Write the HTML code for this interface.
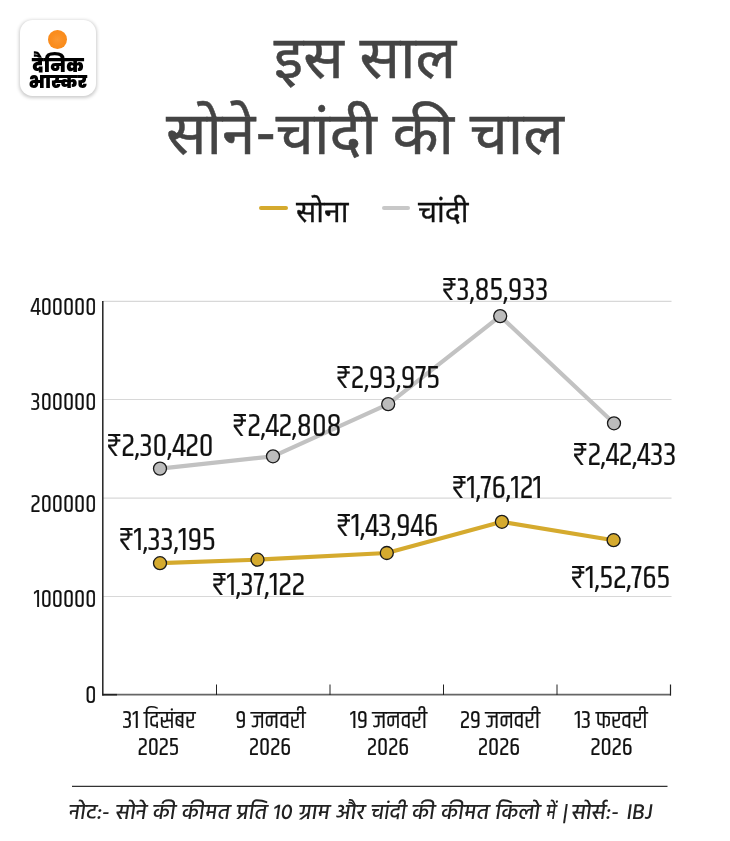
<!DOCTYPE html>
<html lang="hi">
<head>
<meta charset="utf-8">
<title>इस साल सोने-चांदी की चाल</title>
<style>
html,body{margin:0;padding:0;background:#fff;}
body{width:730px;height:841px;position:relative;overflow:hidden;font-family:"Noto Sans Devanagari","Noto Sans Devanagari UI","Liberation Sans",sans-serif;}
.abs{position:absolute;}
#logo{left:20px;top:19.8px;width:76.3px;height:76px;border-radius:12.5px;background:#fff;box-shadow:0.3px 0.8px 3.5px 0.4px rgba(0,0,0,.2);}
#sun{left:48.2px;top:30.2px;width:18.8px;height:18.8px;border-radius:50%;background:radial-gradient(circle at 50% 50%,#fb9832 0,#fa8d1e 50%,#f98a19 100%);}
.lg{font-family:"Poppins","Noto Sans Devanagari UI","Noto Sans Devanagari","Liberation Sans",sans-serif;font-weight:900;color:#000;white-space:nowrap;text-align:center;left:19px;width:78px;font-size:20.5px;line-height:28px;}
#t1,#t2{left:0;width:730px;text-align:center;color:#444;font-size:59px;line-height:77px;white-space:nowrap;-webkit-text-stroke:0.5px #444;transform:scaleX(1.017);transform-origin:365px 50%;}
#t1{top:25px;}
#t2{top:101px;}
.leg{font-size:30px;color:#111;-webkit-text-stroke:0.3px #111;white-space:nowrap;line-height:40px;}
svg text{font-family:"Khand","Liberation Sans Narrow","Noto Sans Devanagari",sans-serif;fill:#111;stroke:#111;stroke-width:0.2px;}
#foot{left:68px;top:796.6px;font-family:"Hind","Mukta","Noto Sans Devanagari","Liberation Sans",sans-serif;font-size:21.72px;font-weight:500;color:#222;white-space:nowrap;line-height:34px;word-spacing:0.8px;transform:skewX(-8deg);transform-origin:0 70%;}
</style>
</head>
<body>
<div id="logo" class="abs"></div>
<div id="sun" class="abs"></div>
<div class="abs lg" style="top:51.5px;font-size:19.2px;transform:scaleX(0.985);">दैनिक</div>
<div class="abs lg" style="top:67.5px;font-size:17.3px;transform:scaleX(1.05);">भास्कर</div>

<div id="t1" class="abs">इस साल</div>
<div id="t2" class="abs">सोने-चांदी की चाल</div>

<div class="abs" style="left:259px;top:205.8px;width:29px;height:4.4px;border-radius:2px;background:#d5aa2e;"></div>
<div class="abs leg" style="left:296px;top:194.5px;">सोना</div>
<div class="abs" style="left:381.5px;top:205.8px;width:28.5px;height:4.4px;border-radius:2px;background:#c8c8c8;"></div>
<div class="abs leg" style="left:418px;top:194.5px;">चांदी</div>

<svg class="abs" style="left:0;top:0" width="730" height="841" viewBox="0 0 730 841">
  <g stroke="#d8d8d8" stroke-width="1.2">
    <line x1="103" x2="671.5" y1="301.4" y2="301.4"/>
    <line x1="103" x2="671.5" y1="399.5" y2="399.5"/>
    <line x1="103" x2="671.5" y1="498.1" y2="498.1"/>
    <line x1="103" x2="671.5" y1="596.5" y2="596.5"/>
  </g>
  <line x1="103" x2="671" y1="694.7" y2="694.7" stroke="#666" stroke-width="1.8"/>
  <g stroke="#222" fill="none">
    <line x1="102.8" x2="102.8" y1="301" y2="695.5" stroke-width="1.5"/>
    <line x1="102" x2="117" y1="694.7" y2="694.7" stroke-width="1.6"/>
    <line x1="216.5" x2="216.5" y1="684.5" y2="695" stroke-width="1"/>
    <line x1="330" x2="330" y1="684.5" y2="695" stroke-width="1"/>
    <line x1="443.5" x2="443.5" y1="684.5" y2="695" stroke-width="1"/>
    <line x1="557" x2="557" y1="684.5" y2="695" stroke-width="1"/>
    <line x1="670.5" x2="670.5" y1="684.5" y2="695.5" stroke-width="1.2"/>
  </g>
  <g font-size="25" text-anchor="end">
    <text x="96.4" y="315.3">400000</text>
    <text x="96.4" y="409.7">300000</text>
    <text x="96.4" y="511.6">200000</text>
    <text x="96.4" y="607.4">100000</text>
    <text x="96.4" y="703.4">0</text>
  </g>
  <polyline fill="none" stroke="#c2c2c2" stroke-width="4.2" stroke-linejoin="round" points="160,468.6 273,456.3 388.2,404.1 500.2,316.1 614,423.3"/>
  <polyline fill="none" stroke="#d5aa2e" stroke-width="4.2" stroke-linejoin="round" points="160,563.2 257.5,559.7 386.8,553 501.9,521.8 613.6,540.2"/>
  <g fill="#bcbcbc" stroke="#1a1a1a" stroke-width="1.3">
    <circle cx="160" cy="468.6" r="6.5"/><circle cx="273" cy="456.3" r="6.5"/><circle cx="388.2" cy="404.1" r="6.5"/><circle cx="500.2" cy="316.1" r="6.5"/><circle cx="614" cy="423.3" r="6.5"/>
  </g>
  <g fill="#d5aa2e" stroke="#1a1a1a" stroke-width="1.3">
    <circle cx="160" cy="563.2" r="6.5"/><circle cx="257.5" cy="559.7" r="6.5"/><circle cx="386.8" cy="553" r="6.5"/><circle cx="501.9" cy="521.8" r="6.5"/><circle cx="613.6" cy="540.2" r="6.5"/>
  </g>
  <g font-size="33" text-anchor="middle">
    <text x="160" y="456">₹2,30,420</text>
    <text x="287" y="435.6">₹2,42,808</text>
    <text x="388" y="387.8">₹2,93,975</text>
    <text x="495" y="300">₹3,85,933</text>
    <text x="624.5" y="464.6">₹2,42,433</text>
    <text x="167.3" y="550">₹1,33,195</text>
    <text x="258.4" y="594.8">₹1,37,122</text>
    <text x="387.2" y="535.8">₹1,43,946</text>
    <text x="497" y="498">₹1,76,121</text>
    <text x="620.4" y="587.5">₹1,52,765</text>
  </g>
  <g font-size="25" text-anchor="middle">
    <text x="159" y="727.7">31 दिसंबर</text><text x="158.5" y="755.2">2025</text>
    <text x="270.5" y="727.7">9 जनवरी</text><text x="270" y="755.2">2026</text>
    <text x="388.5" y="727.7">19 जनवरी</text><text x="388" y="755.2">2026</text>
    <text x="500" y="727.7">29 जनवरी</text><text x="499" y="755.2">2026</text>
    <text x="611" y="727.7">13 फरवरी</text><text x="611.5" y="755.2">2026</text>
  </g>
  <line x1="72" x2="667.5" y1="786.3" y2="786.3" stroke="#333" stroke-width="1.2"/>
</svg>
<div id="foot" class="abs">नोट:- सोने की कीमत प्रति 10 ग्राम और <span style="display:inline-block;transform:scaleX(.93);transform-origin:0 50%;margin-right:-3px">चांदी</span> की कीमत किलो <span style="display:inline-block;transform:scaleX(.8);transform-origin:0 50%">में</span> <span style="margin:0 -2.3px">|</span> सोर्स:- <span style="margin-left:1.4px">IBJ</span></div>
</body>
</html>
